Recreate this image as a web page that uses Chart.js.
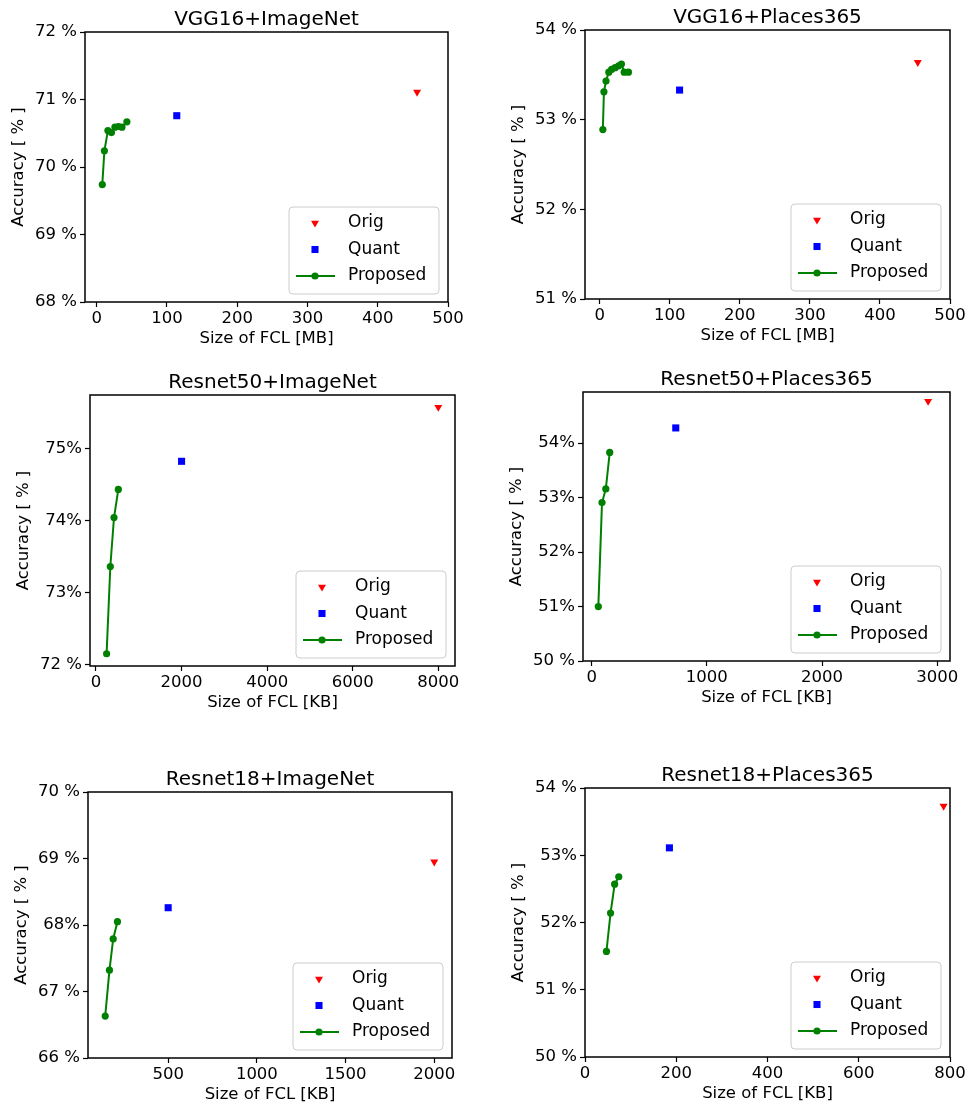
<!DOCTYPE html>
<html>
<head>
<meta charset="utf-8">
<script src="https://cdn.jsdelivr.net/npm/chart.js@4.4.0/dist/chart.umd.min.js"></script>
<style>
  body { margin: 0; background: #fff; width: 971px; height: 1110px; position: relative; overflow: hidden; }
  canvas { position: absolute; }
</style>
</head>
<body>
<script>
// VGG16 + ImageNet (sizes in MB)
const vgg16InSize = [8, 11, 16, 21, 26, 31, 36, 43];
const vgg16InAcc = [69.74, 70.24, 70.54, 70.51, 70.59, 70.60, 70.59, 70.67];
const vgg16InOrig = [456, 71.11];
const vgg16InQuant = [114, 70.76];
const vgg16InXTicks = [0, 100, 200, 300, 400, 500];
const vgg16InYTicks = [68, 69, 70, 71, 72];
const vgg16InYLabels = ['68 %', '69 %', '70 %', '71 %', '72 %'];

// VGG16 + Places365 (MB)
const vgg16PlSize = [4.5, 6, 9, 13, 17, 22, 27, 31, 35, 41];
const vgg16PlAcc = [52.89, 53.31, 53.43, 53.53, 53.56, 53.58, 53.60, 53.62, 53.53, 53.53];
const vgg16PlOrig = [454, 53.64];
const vgg16PlQuant = [114, 53.33];
const vgg16PlXTicks = [0, 100, 200, 300, 400, 500];
const vgg16PlYTicks = [51, 52, 53, 54];
const vgg16PlYLabels = ['51 %', '52 %', '53 %', '54 %'];

// Resnet50 + ImageNet (KB)
const res50InSize = [248, 335, 421, 522];
const res50InAcc = [72.15, 73.36, 74.04, 74.43];
const res50InOrig = [8000, 75.57];
const res50InQuant = [2000, 74.82];
const res50InXTicks = [0, 2000, 4000, 6000, 8000];
const res50InYTicks = [72, 73, 74, 75];
const res50InYLabels = ['72 %', '73%', '74%', '75%'];

// Resnet50 + Places365 (KB)
const res50PlSize = [58, 90, 123, 157];
const res50PlAcc = [51.0, 52.91, 53.16, 53.83];
const res50PlOrig = [2920, 54.77];
const res50PlQuant = [730, 54.28];
const res50PlXTicks = [0, 1000, 2000, 3000];
const res50PlYTicks = [50, 51, 52, 53, 54];
const res50PlYLabels = ['50 %', '51%', '52%', '53%', '54%'];

// Resnet18 + ImageNet (KB)
const res18InSize = [145, 169, 190, 214];
const res18InAcc = [66.63, 67.32, 67.79, 68.05];
const res18InOrig = [2000, 68.95];
const res18InQuant = [500, 68.26];
const res18InXTicks = [500, 1000, 1500, 2000];
const res18InYTicks = [66, 67, 68, 69, 70];
const res18InYLabels = ['66 %', '67 %', '68%', '69 %', '70 %'];

// Resnet18 + Places365 (KB)
const res18PlSize = [47, 56, 65, 74];
const res18PlAcc = [51.57, 52.14, 52.57, 52.68];
const res18PlOrig = [786, 53.73];
const res18PlQuant = [185, 53.11];
const res18PlXTicks = [0, 200, 400, 600, 800];
const res18PlYTicks = [50, 51, 52, 53, 54];
const res18PlYLabels = ['50 %', '51 %', '52%', '53%', '54 %'];

const panels = [
  { title: 'VGG16+ImageNet', frame: [85, 32, 448, 302], xLabel: 'Size of FCL [MB]',
    xMin: -16.6, xMax: 500, yMin: 68, yMax: 72,
    size: vgg16InSize, acc: vgg16InAcc, orig: vgg16InOrig, quant: vgg16InQuant,
    xTicks: vgg16InXTicks, yTicks: vgg16InYTicks, yLabels: vgg16InYLabels },
  { title: 'VGG16+Places365', frame: [585, 30, 950, 299], xLabel: 'Size of FCL [MB]',
    xMin: -21, xMax: 500, yMin: 51, yMax: 54,
    size: vgg16PlSize, acc: vgg16PlAcc, orig: vgg16PlOrig, quant: vgg16PlQuant,
    xTicks: vgg16PlXTicks, yTicks: vgg16PlYTicks, yLabels: vgg16PlYLabels },
  { title: 'Resnet50+ImageNet', frame: [90, 395, 455, 666], xLabel: 'Size of FCL [KB]',
    xMin: -140, xMax: 8390, yMin: 71.98, yMax: 75.74,
    size: res50InSize, acc: res50InAcc, orig: res50InOrig, quant: res50InQuant,
    xTicks: res50InXTicks, yTicks: res50InYTicks, yLabels: res50InYLabels },
  { title: 'Resnet50+Places365', frame: [583, 392, 950, 661], xLabel: 'Size of FCL [KB]',
    xMin: -75, xMax: 3110, yMin: 50, yMax: 54.94,
    size: res50PlSize, acc: res50PlAcc, orig: res50PlOrig, quant: res50PlQuant,
    xTicks: res50PlXTicks, yTicks: res50PlYTicks, yLabels: res50PlYLabels },
  { title: 'Resnet18+ImageNet', frame: [88, 792, 452, 1058], xLabel: 'Size of FCL [KB]',
    xMin: 48, xMax: 2100, yMin: 66, yMax: 70,
    size: res18InSize, acc: res18InAcc, orig: res18InOrig, quant: res18InQuant,
    xTicks: res18InXTicks, yTicks: res18InYTicks, yLabels: res18InYLabels },
  { title: 'Resnet18+Places365', frame: [585, 788, 950, 1057], xLabel: 'Size of FCL [KB]',
    xMin: 0, xMax: 800, yMin: 50, yMax: 54,
    size: res18PlSize, acc: res18PlAcc, orig: res18PlOrig, quant: res18PlQuant,
    xTicks: res18PlXTicks, yTicks: res18PlYTicks, yLabels: res18PlYLabels }
];

Chart.defaults.font.family = 'DejaVu Sans';
Chart.defaults.color = '#000';

const LEFT = 85, RIGHT = 25, TOP = 32, BOTTOM = 52;
const tickFont = { size: 16.5 };

// black box around the plot area, like matplotlib spines
const framePlugin = {
  id: 'frame',
  afterDraw(chart) {
    const a = chart.chartArea, ctx = chart.ctx;
    ctx.save();
    ctx.strokeStyle = '#000';
    ctx.lineWidth = 1.5;
    ctx.strokeRect(a.left, a.top, a.right - a.left, a.bottom - a.top);
    ctx.restore();
  }
};

// legend box in the lower right corner of the plot area
const boxLegend = {
  id: 'boxLegend',
  afterDraw(chart) {
    const a = chart.chartArea, ctx = chart.ctx;
    const w = 150, h = 87;
    const x0 = a.right - 9 - w, y0 = a.bottom - 8 - h;
    ctx.save();
    ctx.beginPath();
    ctx.roundRect(x0, y0, w, h, 4);
    ctx.fillStyle = 'rgba(255,255,255,0.8)';
    ctx.fill();
    ctx.strokeStyle = '#cccccc';
    ctx.lineWidth = 1;
    ctx.stroke();
    chart.data.datasets.forEach((ds, i) => {
      const cy = y0 + 16 + i * 26.5;
      const cx = x0 + 26;
      ctx.fillStyle = ds.pointBackgroundColor;
      ctx.strokeStyle = ds.borderColor;
      if (ds.showLine) {
        ctx.lineWidth = ds.borderWidth;
        ctx.beginPath();
        ctx.moveTo(x0 + 7, cy);
        ctx.lineTo(x0 + 46, cy);
        ctx.stroke();
      }
      Chart.helpers.drawPoint(ctx, {
        pointStyle: ds.pointStyle, rotation: ds.pointRotation || 0,
        radius: ds.pointRadius, borderWidth: 0
      }, cx, cy);
      ctx.fillStyle = '#000';
      ctx.font = '17px "DejaVu Sans"';
      ctx.textBaseline = 'middle';
      ctx.textAlign = 'left';
      ctx.fillText(ds.label, x0 + 59, cy);
    });
    ctx.restore();
  }
};

panels.forEach(p => {
  const [fl, ft, fr, fb] = p.frame;
  const canvas = document.createElement('canvas');
  canvas.width = fr - fl + LEFT + RIGHT;
  canvas.height = fb - ft + TOP + BOTTOM;
  canvas.style.left = (fl - LEFT) + 'px';
  canvas.style.top = (ft - TOP) + 'px';
  document.body.appendChild(canvas);

  new Chart(canvas, {
    type: 'scatter',
    data: {
      datasets: [
        { label: 'Orig', data: [{ x: p.orig[0], y: p.orig[1] }],
          pointStyle: 'triangle', pointRotation: 180, pointRadius: 4.6, pointBorderWidth: 0,
          pointBackgroundColor: '#ff0000', borderColor: '#ff0000' },
        { label: 'Quant', data: [{ x: p.quant[0], y: p.quant[1] }],
          pointStyle: 'rect', pointRadius: 5, pointBorderWidth: 0,
          pointBackgroundColor: '#0000ff', borderColor: '#0000ff' },
        { label: 'Proposed', data: p.size.map((x, i) => ({ x: x, y: p.acc[i] })),
          showLine: true, borderColor: '#008000', borderWidth: 2,
          pointStyle: 'circle', pointRadius: 3.6, pointBorderWidth: 0,
          pointBackgroundColor: '#008000' }
      ]
    },
    options: {
      responsive: false,
      animation: false,
      layout: { padding: { left: 0, right: RIGHT, top: 0, bottom: 0 } },
      plugins: {
        legend: { display: false },
        tooltip: { enabled: false },
        title: { display: true, text: p.title, color: '#000', fullSize: false,
                 font: { size: 20, weight: 'normal', lineHeight: 1.2 },
                 padding: { top: 8, bottom: 0 } }
      },
      scales: {
        x: {
          type: 'linear', min: p.xMin, max: p.xMax,
          afterBuildTicks: s => { s.ticks = p.xTicks.map(v => ({ value: v })); },
          afterFit: s => { s.height = BOTTOM; },
          ticks: { font: tickFont, color: '#000', padding: 2, maxRotation: 0, autoSkip: false,
                   callback: v => String(v) },
          grid: { drawOnChartArea: false, drawTicks: true, tickLength: 5, tickWidth: 1.2, tickColor: '#000' },
          border: { display: false },
          title: { display: true, text: p.xLabel, color: '#000', font: tickFont,
                   padding: { top: 0, bottom: 5 } }
        },
        y: {
          type: 'linear', min: p.yMin, max: p.yMax,
          afterBuildTicks: s => { s.ticks = p.yTicks.map(v => ({ value: v })); },
          afterFit: s => { s.width = LEFT; },
          ticks: { font: tickFont, color: '#000', padding: 3, autoSkip: false,
                   callback: v => p.yLabels[p.yTicks.indexOf(v)] },
          grid: { drawOnChartArea: false, drawTicks: true, tickLength: 5, tickWidth: 1.2, tickColor: '#000' },
          border: { display: false },
          title: { display: true, text: 'Accuracy [ % ]', color: '#000', font: tickFont,
                   padding: { top: 9, bottom: 0 } }
        }
      }
    },
    plugins: [framePlugin, boxLegend]
  });
});
</script>
</body>
</html>
